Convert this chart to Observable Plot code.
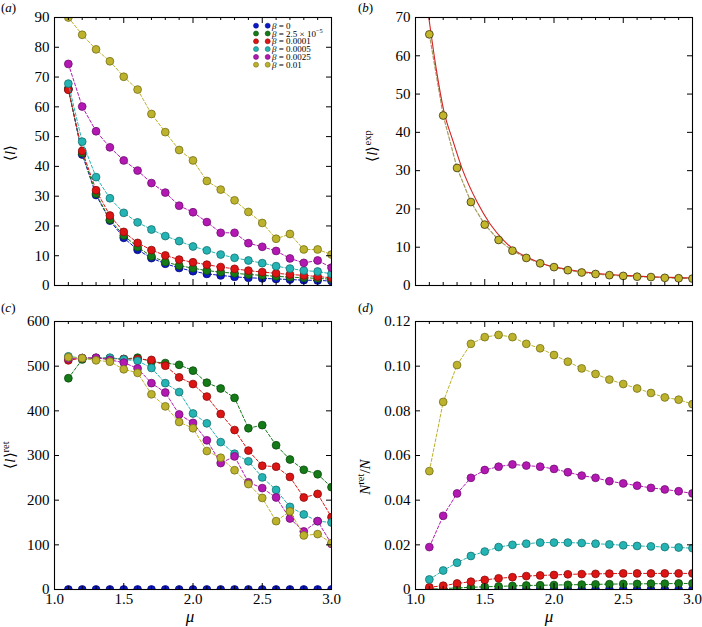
<!DOCTYPE html>
<html><head><meta charset="utf-8">
<script src="https://cdn.jsdelivr.net/npm/d3@7"></script>
<script src="https://cdn.jsdelivr.net/npm/@observablehq/plot@0.6"></script>
<style>
body{margin:0;background:#fff;}
#fig{position:relative;width:702px;height:627px;overflow:hidden;font-family:'Liberation Serif',serif;}
.panel{position:absolute;}
</style></head><body>
<div id="fig">
<div class="panel" id="pa" style="left:0;top:0"></div>
<div class="panel" id="pb" style="left:351px;top:0"></div>
<div class="panel" id="pc" style="left:0;top:305px"></div>
<div class="panel" id="pd" style="left:351px;top:305px"></div>
</div>
<script>
// ---------- data ----------
const mu = [1.1,1.2,1.3,1.4,1.5,1.6,1.7,1.8,1.9,2.0,2.1,2.2,2.3,2.4,2.5,2.6,2.7,2.8,2.9,3.0];
const betaLabels = ["0", "2.5 \u00d7 10", "0.0001", "0.0005", "0.0025", "0.01"];
const betaExp = ["", "\u22125", "", "", "", ""];

// (a) mean flight length <l>
const meanL_b0     = [66.0,44.0,30.4,21.8,16.0,12.0,9.2,7.3,5.9,4.8,3.9,3.4,2.9,2.6,2.4,2.2,2.0,1.8,1.7,1.5];
const meanL_b25e6  = [66.0,44.5,30.8,22.1,16.8,12.9,9.8,7.9,6.7,5.8,5.0,4.5,4.1,3.7,3.4,3.1,2.8,2.6,2.4,2.1];
const meanL_b1e4   = [65.7,45.2,32.0,23.5,18.0,14.3,11.9,10.1,8.7,7.8,7.0,6.2,5.6,5.0,4.5,4.1,3.7,3.4,3.0,2.6];
const meanL_b5e4   = [67.8,48.3,36.4,29.3,24.4,21.2,18.8,16.6,14.9,13.1,11.8,10.4,9.3,8.4,7.5,6.5,5.7,5.0,4.7,3.9];
const meanL_b25e4  = [74.4,60.1,51.8,46.4,42.0,38.6,34.4,31.2,26.8,24.6,21.3,17.7,17.7,14.2,13.0,11.6,9.1,7.6,8.4,6.0];
const meanL_b1e2   = [90.0,84.2,79.3,75.3,70.1,65.8,57.6,51.5,45.5,42.0,35.1,32.2,28.6,24.7,21.0,15.7,17.3,12.1,12.1,10.4];

// (b) <l>^exp and the fitted curve
const meanLexp = [65.6,44.4,30.7,21.8,15.9,11.9,9.1,7.2,5.8,4.8,4.0,3.4,3.0,2.7,2.5,2.3,2.2,2.0,1.9,1.8];
const curveMu  = [1.096,1.15,1.204,1.27,1.336,1.445,1.54,1.638,1.72,1.83,1.94,2.1,2.3,2.5,2.7,2.9,3.0];
const curveL   = [70,56.5,45.7,37.8,30.6,21.8,16.0,11.75,9.1,7.0,5.4,4.2,3.2,2.65,2.3,2.05,1.95];

// (c) <l>^ret
const meanRet_b0    = [0,0,0,0,0,0,0,0,0,0,0,0,0,0,0,0,0,0,0,0];
const meanRet_b25e6 = [473,515,518,518,516,519,510,507,503,490,463,450,429,361,368,323,291,268,258,229];
const meanRet_b1e4  = [513,518,518,517,516,516,514,501,475,460,432,393,357,311,277,275,252,206,214,162];
const meanRet_b5e4  = [522,518,518,519,515,512,496,462,442,394,372,330,304,287,251,223,185,168,153,150];
const meanRet_b25e4 = [517,518,519,514,508,495,462,441,392,373,334,283,298,240,227,206,159,130,153,102];
const meanRet_b1e2  = [520,518,513,510,493,485,437,410,375,361,310,295,267,236,205,153,175,121,124,104];

// (d) N^ret / N
const fracRet_b0    = [0,0,0,0,0,0,0,0,0,0,0,0,0,0,0,0,0,0,0,0];
const fracRet_b25e6 = [0.0002,0.0004,0.0007,0.0010,0.0012,0.0014,0.0016,0.0018,0.0019,0.0020,0.0021,0.0022,0.0023,0.0024,0.0025,0.0025,0.0026,0.0026,0.0027,0.0027];
const fracRet_b1e4  = [0.0010,0.0017,0.0027,0.0035,0.0043,0.0050,0.0055,0.0060,0.0063,0.0065,0.0068,0.0069,0.0070,0.0071,0.0072,0.0072,0.0072,0.0072,0.0072,0.0072];
const fracRet_b5e4  = [0.0045,0.0085,0.0120,0.0150,0.0170,0.0190,0.0200,0.0205,0.0210,0.0210,0.0210,0.0208,0.0205,0.0202,0.0198,0.0195,0.0193,0.0190,0.0188,0.0185];
const fracRet_b25e4 = [0.019,0.033,0.043,0.050,0.0535,0.055,0.056,0.0555,0.055,0.054,0.0525,0.051,0.050,0.0485,0.0475,0.0465,0.0455,0.0448,0.044,0.043];
const fracRet_b1e2  = [0.053,0.084,0.1005,0.110,0.113,0.114,0.113,0.110,0.108,0.105,0.102,0.099,0.0965,0.094,0.092,0.090,0.088,0.086,0.085,0.083];

// ticks
const xMajor = [1.0,1.5,2.0,2.5,3.0];
const xMinor = [1.1,1.2,1.3,1.4,1.6,1.7,1.8,1.9,2.1,2.2,2.3,2.4,2.6,2.7,2.8,2.9];
const yTicksA = [0,10,20,30,40,50,60,70,80,90];
const yTicksB = [0,10,20,30,40,50,60,70];
const yTicksC = [0,100,200,300,400,500,600];
const yTicksD = [0,0.02,0.04,0.06,0.08,0.10,0.12];

// ---------- styles ----------
const colors = ["#0b17c9","#157a18","#dc1414","#24b4b4","#b318b3","#bcb22c"];
const FONT = "'Liberation Serif', serif";

const rows = vals => mu.map((m, i) => ({mu: m, v: vals[i]}));

function seriesMarks(vals, c) {
  const data = rows(vals);
  const dark = d3.color(c).darker(1.3).formatHex();
  return [
    Plot.line(data, {x: "mu", y: "v", stroke: c, strokeWidth: 1, strokeDasharray: "3,2", clip: true}),
    Plot.dot(data, {x: "mu", y: "v", r: 3.9, fill: c, stroke: dark, strokeWidth: 0.8, clip: true})
  ];
}

function boxTicks(W, H, yTicks) {
  return [
    Plot.tickX(xMinor, {x: d => d, insetTop: H - 3, stroke: "#000"}),
    Plot.tickX(xMajor, {x: d => d, insetTop: H - 6, stroke: "#000"}),
    Plot.tickX(xMinor, {x: d => d, insetBottom: H - 3, stroke: "#000"}),
    Plot.tickX(xMajor, {x: d => d, insetBottom: H - 6, stroke: "#000"}),
    Plot.tickY(yTicks, {y: d => d, insetRight: W - 5, stroke: "#000"}),
    Plot.tickY(yTicks, {y: d => d, insetLeft: W - 5, stroke: "#000"})
  ];
}

function panel({width, height, mL, mR, mT, mB, ymax, yTicks, yFmt, showX, marks}) {
  const W = width - mL - mR, H = height - mT - mB;
  const all = [
    ...marks,
    ...boxTicks(W, H, yTicks),
    Plot.frame({stroke: "#000", strokeWidth: 1.1}),
    Plot.axisY(yTicks, {tickSize: 0, tickPadding: 5, tickFormat: yFmt, label: null, fontSize: 15, fontFamily: "Liberation Serif"})
  ];
  if (showX) all.push(Plot.axisX(xMajor, {tickSize: 0, tickPadding: 4, tickFormat: d => d.toFixed(1), label: null, fontSize: 15, fontFamily: "Liberation Serif"}));
  return Plot.plot({
    width, height, marginLeft: mL, marginRight: mR, marginTop: mT, marginBottom: mB,
    x: {domain: [1, 3], ...(showX ? {} : {axis: null})},
    y: {domain: [0, ymax]},
    style: {fontFamily: FONT, fontSize: "15px", background: "transparent", color: "#000", overflow: "visible"},
    marks: all
  });
}

function addText(svg, x, y, parts, {size = 15, rotate = false, anchor = "middle"} = {}) {
  const t = d3.select(svg).append("text")
    .attr("font-family", FONT).attr("font-size", size).attr("fill", "#000")
    .attr("text-anchor", anchor)
    .attr("transform", rotate ? `translate(${x},${y}) rotate(-90)` : `translate(${x},${y})`);
  for (const p of parts) {
    const s = t.append("tspan").text(p.t);
    if (p.i) s.attr("font-style", "italic");
    if (p.sup) s.attr("font-size", size * 0.7).attr("dy", -size * 0.4);
    if (p.down) s.attr("dy", size * 0.4);
  }
  return t;
}
const fmtInt = d => String(d);

// (a)
const seriesA = [meanL_b0, meanL_b25e6, meanL_b1e4, meanL_b5e4, meanL_b25e4, meanL_b1e2];
const svgA = panel({width: 351, height: 305, mL: 54, mR: 20, mT: 17, mB: 20, ymax: 90, yTicks: yTicksA, yFmt: fmtInt, showX: false,
  marks: seriesA.flatMap((s, i) => seriesMarks(s, colors[i]))});
document.getElementById("pa").append(svgA);
addText(svgA, 15, 153, [{t: "\u27e8"}, {t: "l", i: true}, {t: "\u27e9"}], {rotate: true, size: 15});
addText(svgA, 1, 12, [{t: "("}, {t: "a", i: true}, {t: ")"}], {anchor: "start", size: 13});
// legend
betaLabels.forEach((lab, i) => {
  const y = 25.7 + i * 7.8;
  const c = colors[i], dark = d3.color(c).darker(1.3).formatHex();
  [256, 267.7].forEach(x => d3.select(svgA).append("circle").attr("cx", x).attr("cy", y).attr("r", 2.5)
    .attr("fill", c).attr("stroke", dark).attr("stroke-width", 0.6));
  const parts = [{t: "\u03b2", i: true}, {t: " = " + lab}];
  if (betaExp[i]) parts.push({t: betaExp[i], sup: true});
  addText(svgA, 272, y + 3, parts, {anchor: "start", size: 9});
});

// (b)
const expRows = rows(meanLexp);
const curveRows = curveMu.map((m, i) => ({mu: m, v: curveL[i]}));
const svgB = panel({width: 351, height: 305, mL: 64, mR: 10, mT: 17, mB: 20, ymax: 70, yTicks: yTicksB, yFmt: fmtInt, showX: false,
  marks: [
    Plot.line(expRows, {x: "mu", y: "v", stroke: "#a39b5e", strokeWidth: 1.2, strokeDasharray: "3.5,2", clip: true}),
    Plot.line(curveRows, {x: "mu", y: "v", stroke: "#d42222", strokeWidth: 1.1, curve: "monotone-x", clip: true}),
    Plot.dot(expRows, {x: "mu", y: "v", r: 3.9, fill: "#c4b62a", stroke: "#3a3510", strokeWidth: 0.8, clip: true})
  ]});
document.getElementById("pb").append(svgB);
addText(svgB, 26, 146, [{t: "\u27e8"}, {t: "l", i: true}, {t: "\u27e9"}, {t: "exp", sup: true}], {rotate: true, size: 15});
addText(svgB, 7, 12, [{t: "("}, {t: "b", i: true}, {t: ")"}], {anchor: "start", size: 13});

// (c)
const seriesC = [meanRet_b0, meanRet_b25e6, meanRet_b1e4, meanRet_b5e4, meanRet_b25e4, meanRet_b1e2];
const svgC = panel({width: 351, height: 322, mL: 54, mR: 20, mT: 16, mB: 38, ymax: 600, yTicks: yTicksC, yFmt: fmtInt, showX: true,
  marks: seriesC.flatMap((s, i) => seriesMarks(s, colors[i]))});
document.getElementById("pc").append(svgC);
addText(svgC, 15, 150, [{t: "\u27e8"}, {t: "l", i: true}, {t: "\u27e9"}, {t: "ret", sup: true}], {rotate: true, size: 15});
addText(svgC, 1, 7, [{t: "("}, {t: "c", i: true}, {t: ")"}], {anchor: "start", size: 13});
addText(svgC, 190, 317, [{t: "\u03bc", i: true}], {size: 17});

// (d)
const seriesD = [fracRet_b0, fracRet_b25e6, fracRet_b1e4, fracRet_b5e4, fracRet_b25e4, fracRet_b1e2];
const svgD = panel({width: 351, height: 322, mL: 64, mR: 10, mT: 16, mB: 38, ymax: 0.12, yTicks: yTicksD,
  yFmt: d => d === 0 ? "0" : d.toFixed(2), showX: true,
  marks: seriesD.flatMap((s, i) => seriesMarks(s, colors[i]))});
document.getElementById("pd").append(svgD);
addText(svgD, 19, 172, [{t: "N", i: true}, {t: "ret", sup: true}, {t: "/", down: true}, {t: "N", i: true}], {rotate: true, size: 15});
addText(svgD, 7, 7, [{t: "("}, {t: "d", i: true}, {t: ")"}], {anchor: "start", size: 13});
addText(svgD, 198, 317, [{t: "\u03bc", i: true}], {size: 17});
</script>
</body></html>
